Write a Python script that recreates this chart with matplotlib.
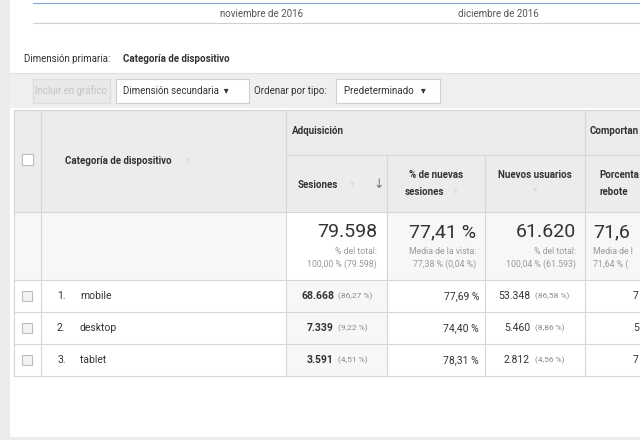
import matplotlib.pyplot as plt
from matplotlib.patches import Rectangle

# data
x_months = ["noviembre de 2016", "diciembre de 2016"]
devices = ["mobile", "desktop", "tablet"]
sessions = ["68.668", "7.339", "3.591"]
sessions_pct = ["(86,27 %)", "(9,22 %)", "(4,51 %)"]
new_sess_pct = ["77,69 %", "74,40 %", "78,31 %"]
new_users = ["53.348", "5.460", "2.812"]
new_users_pct = ["(86,58 %)", "(8,86 %)", "(4,56 %)"]
bounce_cut = ["7", "5", "7"]
totals = ["79.598", "77,41 %", "61.620", "71,6"]
totals_sub1 = ["% del total:", "Media de la vista:", "% del total:", "Media de l"]
totals_sub2 = ["100,00 % (79.598)", "77,38 % (0,04 %)", "100,04 % (61.593)", "71,64 % ("]

plt.rcParams['font.family'] = ['Roboto', 'DejaVu Sans']
fig = plt.figure(figsize=(6.4, 4.4), dpi=100, facecolor="white")
ax = fig.add_axes([0, 0, 1, 1])
ax.set_xlim(0, 640)
ax.set_ylim(440, 0)
ax.axis("off")

def rect(x0, y0, x1, y1, fc, ec="none", lw=0.8, z=1):
    ax.add_patch(Rectangle((x0, y0), x1 - x0, y1 - y0, fc=fc, ec=ec, lw=lw, zorder=z))

def hl(y, x0, x1, c="#d6d6d6"):
    ax.plot([x0, x1], [y, y], color=c, lw=0.8, zorder=3)

def vl(x, y0, y1, c="#d6d6d6"):
    ax.plot([x, x], [y0, y1], color=c, lw=0.8, zorder=3)

DARK = "#333333"
GREY = "#8a8a8a"

# page background
rect(0, 0, 10, 440, "#ececec", z=0)
rect(10, 437, 640, 440, "#ececec", z=0)
hl(3, 33, 640, "#7fa8d8")
hl(23, 33, 640, "#d0d0d0")
ax.text(262, 14, x_months[0], fontsize=7, color="#555555", ha="center", va="center")
ax.text(498, 14, x_months[1], fontsize=7, color="#555555", ha="center", va="center")

ax.text(24, 59, "Dimensión primaria:", fontsize=7, color=DARK, va="center")
ax.text(123, 59, "Categoría de dispositivo", fontsize=7, color=DARK, va="center", weight="bold")

# toolbar
rect(10, 73, 640, 108, "#efefef")
hl(73, 10, 640, "#e0e0e0")
rect(33, 79, 110, 103, "#e9e9e9", "#dcdcdc", z=2)
ax.text(71, 91, "Incluir en gráfico", fontsize=7, color="#c4c4c4", ha="center", va="center")
rect(116, 79, 249, 103, "white", "#cfcfcf", z=2)
ax.text(123, 91, "Dimensión secundaria  ▾", fontsize=7, color=DARK, va="center")
ax.text(254, 91, "Ordenar por tipo:", fontsize=7, color=DARK, va="center")
rect(336, 79, 440, 103, "white", "#cfcfcf", z=2)
ax.text(344, 91, "Predeterminado   ▾", fontsize=7, color=DARK, va="center")

# table
rect(14, 110, 640, 212, "#ececec")
rect(14, 212, 640, 280, "#f7f7f7")
rect(286, 212, 387, 280, "white", z=2)
for i in range(3):
    rect(286, 280 + 32 * i, 387, 312 + 32 * i, "#f7f7f7", z=2)
for y in [110, 212, 280, 312, 344, 376]:
    hl(y, 14, 640)
hl(155, 286, 640)
for x in [14, 41, 286, 585]:
    vl(x, 110, 376)
for x in [387, 485]:
    vl(x, 155, 376)

rect(22, 154, 33, 165, "white", "#bdbdbd", z=4)
ax.text(65, 161, "Categoría de dispositivo", fontsize=7, color=DARK, weight="bold", va="center")
ax.text(186, 161, "?", fontsize=6, color="#c8c8c8", va="center")
ax.text(292, 131, "Adquisición", fontsize=7, color=DARK, weight="bold", va="center")
ax.text(590, 131, "Comportan", fontsize=7, color=DARK, weight="bold", va="center")
ax.text(298, 185, "Sesiones", fontsize=7, color=DARK, weight="bold", va="center")
ax.text(350, 185, "?", fontsize=6, color="#c8c8c8", va="center")
ax.text(373, 185, "↓", fontsize=9, color="#777777", va="center")
ax.text(436, 175, "% de nuevas", fontsize=7, color=DARK, weight="bold", ha="center", va="center")
ax.text(405, 192, "sesiones", fontsize=7, color=DARK, weight="bold", va="center")
ax.text(453, 192, "?", fontsize=6, color="#c8c8c8", va="center")
ax.text(535, 175, "Nuevos usuarios", fontsize=7, color=DARK, weight="bold", ha="center", va="center")
ax.text(535, 191, "?", fontsize=6, color="#c8c8c8", ha="center", va="center")
ax.text(599, 175, "Porcenta", fontsize=7, color=DARK, weight="bold", va="center")
ax.text(599, 192, "rebote", fontsize=7, color=DARK, weight="bold", va="center")

# totals row
rights = [377, 476, 576]
for i in range(4):
    ha = "right" if i < 3 else "left"
    xx = rights[i] if i < 3 else 593
    ax.text(xx, 232, totals[i], fontsize=14, color=DARK, ha=ha, va="center", zorder=5)
    ax.text(xx, 252, totals_sub1[i], fontsize=6.3, color="#999999", ha=ha, va="center", zorder=5)
    ax.text(xx, 264, totals_sub2[i], fontsize=6.3, color="#999999", ha=ha, va="center", zorder=5)

# data rows
for i, dev in enumerate(devices):
    y = 296 + 32 * i
    rect(22, y - 5, 32, y + 5, "#f2f2f2", "#bdbdbd", z=4)
    ax.text(57, y, f"{i + 1}.", fontsize=7.5, color=DARK, va="center")
    ax.text(80, y, dev, fontsize=7.5, color=DARK, va="center")
    ax.text(334, y, sessions[i], fontsize=7.5, color=DARK, weight="bold", ha="right", va="center", zorder=5)
    ax.text(338, y, sessions_pct[i], fontsize=6, color=GREY, va="center", zorder=5)
    ax.text(479, y, new_sess_pct[i], fontsize=7.5, color=DARK, ha="right", va="center")
    ax.text(530, y, new_users[i], fontsize=7.5, color=DARK, ha="right", va="center")
    ax.text(535, y, new_users_pct[i], fontsize=6, color=GREY, va="center")
    ax.text(633, y, bounce_cut[i], fontsize=7.5, color=DARK, va="center")

fig.savefig("out.png", dpi=100, facecolor="white")
